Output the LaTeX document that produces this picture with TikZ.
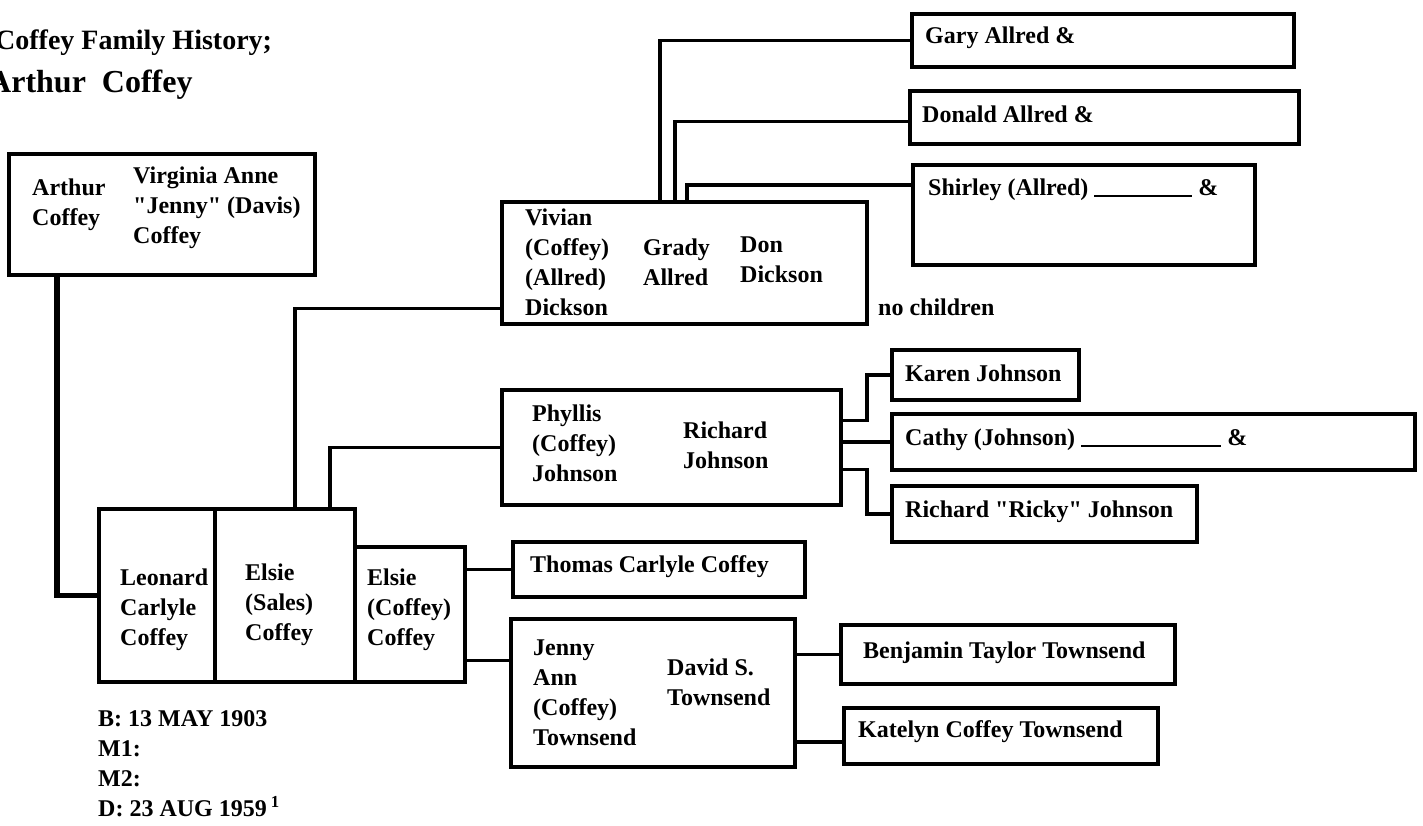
\documentclass[tikz,border=0pt]{standalone}
\usepackage{fontspec}
\setmainfont{Liberation Serif}[Ligatures=TeXOff]
\usepackage{tikz}

\begin{document}
\begin{tikzpicture}[x=1pt, y=-1pt,
    box/.style={draw, line width=3.5pt, inner sep=0pt},
    txt/.style={inner sep=0pt, anchor=west, align=left, font=\fontsize{24}{30}\selectfont\bfseries},
    link/.style={line width=3.5pt},
    trunk/.style={line width=5.5pt}]
    \useasboundingbox (0,0) rectangle (1423,825);

    % --- 宏：按左上角和右下角画方框节点 ---
    \newcommand{\pbox}[5]{
        \pgfmathsetmacro{\boxw}{#4-#2}
        \pgfmathsetmacro{\boxh}{#5-#3}
        \node[box, anchor=north west, minimum width=\boxw pt, minimum height=\boxh pt] (#1) at (#2,#3) {};
    }

    % --- 标题 ---
    \node[txt, font=\fontsize{28}{40}\selectfont\bfseries] (title1) at (-5,43) {Coffey Family History;};
    \node[txt, font=\fontsize{32}{40}\selectfont\bfseries] (title2) at (-12,85) {Arthur\ \ Coffey};

    % --- 方框 ---
    \pbox{arthur}{7}{152}{313}{273}
    \pbox{vivian}{500}{200}{865}{322}
    \pbox{gary}{910}{12}{1292}{65}
    \pbox{donald}{908}{89}{1297}{142}
    \pbox{shirley}{911}{163}{1253}{263}
    \pbox{phyllis}{500}{388}{839}{503}
    \pbox{karen}{890}{348}{1077}{398}
    \pbox{cathy}{890}{412}{1413}{468}
    \pbox{ricky}{890}{484}{1195}{540}
    \pbox{leonard}{97}{507}{213}{680}
    \pbox{sales}{213}{507}{353}{680}
    \pbox{ecoffey}{353}{545}{463}{680}
    \pbox{thomas}{511}{540}{803}{595}
    \pbox{jenny}{509}{617}{793}{765}
    \pbox{benj}{839}{623}{1173}{682}
    \pbox{kate}{842}{706}{1156}{762}

    % --- 名字 ---
    \node[txt] (t-arthur) at (32,205) {Arthur\\Coffey};
    \node[txt] (t-virginia) at (133,208) {Virginia Anne\\"Jenny" (Davis)\\Coffey};
    \node[txt] (t-vivian) at (525,262) {Vivian\\(Coffey)\\(Allred)\\Dickson};
    \node[txt] (t-grady) at (643,262) {Grady\\Allred};
    \node[txt] (t-don) at (740,260) {Don\\Dickson};
    \node[txt] (nokids) at (878,307) {no children};
    \node[txt] (t-gary) at (925,38) {Gary Allred \&};
    \node[txt] (t-donald) at (922,114) {Donald Allred \&};
    \node[txt] (t-shirley) at (928,190) {Shirley (Allred) \rule[-1pt]{98pt}{1.5pt} \&};
    \node[txt] (t-phyllis) at (532,443) {Phyllis\\(Coffey)\\Johnson};
    \node[txt] (t-richard) at (683,445) {Richard\\Johnson};
    \node[txt] (t-karen) at (905,373) {Karen Johnson};
    \node[txt] (t-cathy) at (905,440) {Cathy (Johnson) \rule[-1pt]{140pt}{1.5pt} \&};
    \node[txt] (t-ricky) at (905,512) {Richard "Ricky" Johnson};
    \node[txt] (t-leonard) at (120,610) {Leonard\\Carlyle\\Coffey};
    \node[txt] (t-sales) at (245,605) {Elsie\\(Sales)\\Coffey};
    \node[txt] (t-ecoffey) at (367,610) {Elsie\\(Coffey)\\Coffey};
    \node[txt] (t-thomas) at (530,567) {Thomas Carlyle Coffey};
    \node[txt] (t-jenny) at (533,693) {Jenny\\Ann\\(Coffey)\\Townsend};
    \node[txt] (t-david) at (667,682) {David S.\\Townsend};
    \node[txt] (t-benj) at (863,653) {Benjamin Taylor Townsend};
    \node[txt] (t-kate) at (858,732) {Katelyn Coffey Townsend};
    \node[txt] (dates) at (98,764) {B: 13 MAY 1903\\M1:\\M2:\\D: 23 AUG 1959\,\textsuperscript{1}};

    % --- 连线 ---
    \draw[trunk] ([xshift=50pt]arthur.south west) |- (leonard.west);
    \draw[link] ([xshift=82pt]sales.north west) |- ([yshift=17pt]vivian.south west);
    \draw[link] ([xshift=117pt]sales.north west) |- (phyllis.west);
    \draw[link] ([xshift=160pt]vivian.north west) |- (gary.west);
    \draw[link] ([xshift=175pt]vivian.north west) |- ([yshift=-4pt]donald.west);
    \draw[link] ([xshift=187pt]vivian.north west) |- ([yshift=30pt]shirley.west);
    \draw[link] ([yshift=27pt]phyllis.east) -| ([xshift=-23pt]karen.west) -- (karen.west);
    \draw[link] (phyllis.east |- cathy.west) -- (cathy.west);
    \draw[link] ([yshift=-22pt]phyllis.east) -| ([xshift=-23pt]ricky.west) -- (ricky.west);
    \draw[link] (thomas.west -| ecoffey.east) -- (thomas.west);
    \draw[link] ([yshift=23pt]ecoffey.south east) -- ++(46,0);
    \draw[link] (benj.west -| jenny.east) -- (benj.west);
    \draw[link] ([yshift=-6pt]kate.west -| jenny.east) -- ([yshift=-6pt]kate.west);

\end{tikzpicture}
\end{document}
